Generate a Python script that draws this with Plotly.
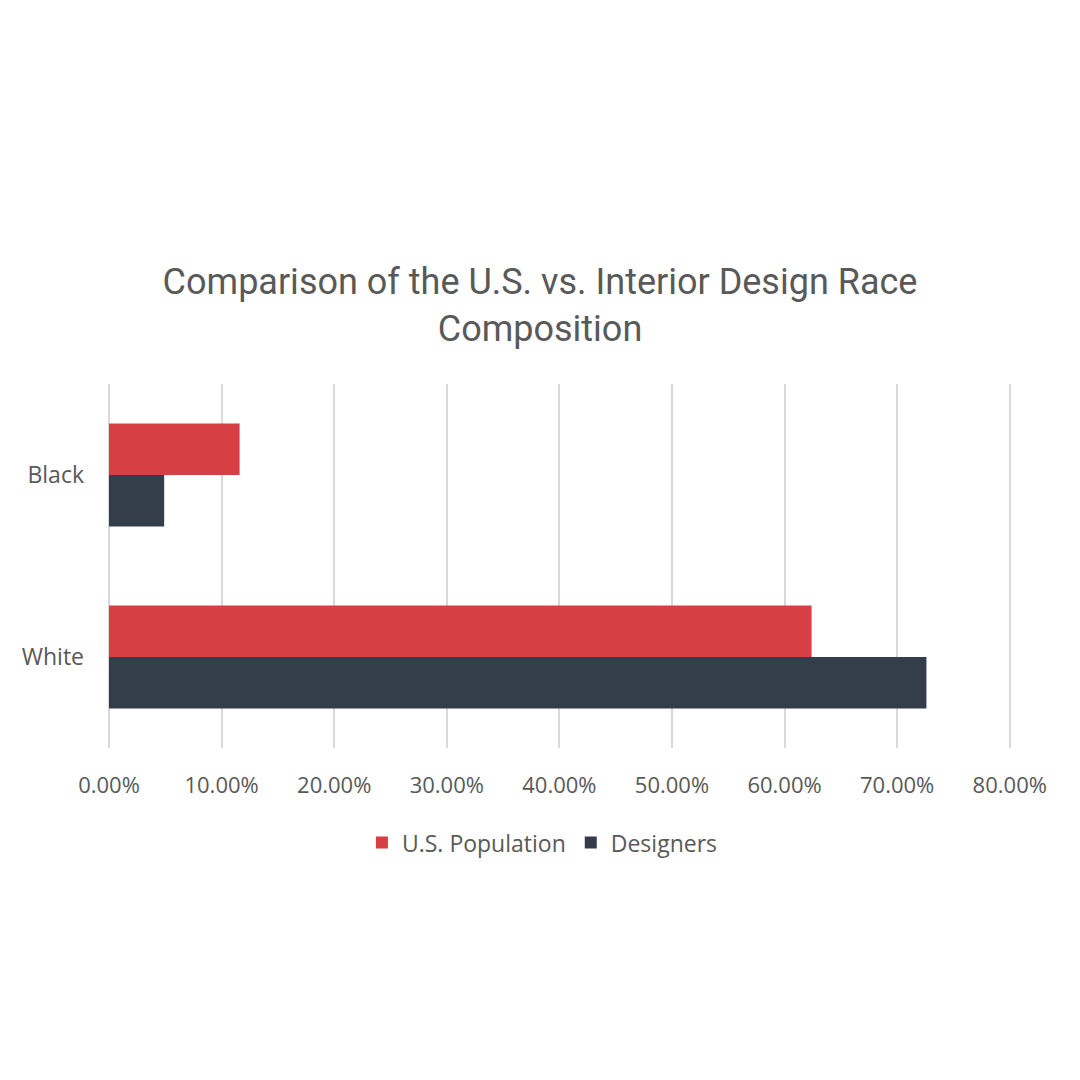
import plotly.graph_objects as go

categories = ["White", "Black"]
us_population = [0.624, 0.116]
designers = [0.726, 0.049]

RED = "#D64045"
DARK = "#343E4B"
TEXT = "#595959"
GRID = "#D9D9D9"

fig = go.Figure()
# designers first so it sits below the red bar in each group
fig.add_trace(go.Bar(y=categories, x=designers, orientation="h", name="Designers",
                     marker=dict(color=DARK, line=dict(width=0)), legendrank=2))
fig.add_trace(go.Bar(y=categories, x=us_population, orientation="h", name="U.S. Population",
                     marker=dict(color=RED, line=dict(width=0)), legendrank=1))

fig.update_layout(
    width=1080,
    height=1080,
    paper_bgcolor="white",
    plot_bgcolor="white",
    barmode="group",
    bargap=0.434,
    bargroupgap=0,
    margin=dict(l=101, r=76, t=376, b=340),
    font=dict(family="Open Sans", color=TEXT, size=22),
    title=dict(
        text="Comparison of the U.S. vs. Interior Design Race<br>Composition",
        x=532 / 1080, xanchor="center", xref="container",
        y=1 - 286 / 1080, yanchor="middle", yref="container",
        font=dict(family="Roboto", size=36, color=TEXT),
    ),
    xaxis=dict(
        # a hair past 80% so the last gridline is not clipped at the edge
        range=[0, 0.802], tickvals=[0, 0.1, 0.2, 0.3, 0.4, 0.5, 0.6, 0.7, 0.8],
        tickformat=".2%",
        showgrid=True, gridcolor=GRID, gridwidth=2,
        zeroline=True, zerolinecolor=GRID, zerolinewidth=2,
        showline=False, ticks="",
        ticklabelstandoff=22,
        fixedrange=True,
    ),
    yaxis=dict(
        showgrid=False, zeroline=False, showline=False, ticks="",
        ticklabelstandoff=24, tickfont=dict(size=23),
    ),
    legend=dict(
        orientation="h", x=0.48, xanchor="center", y=-0.26, yanchor="middle",
        font=dict(size=23, color=TEXT), itemwidth=30, traceorder="normal",
    ),
    showlegend=True,
)

fig.write_html("out.html")
